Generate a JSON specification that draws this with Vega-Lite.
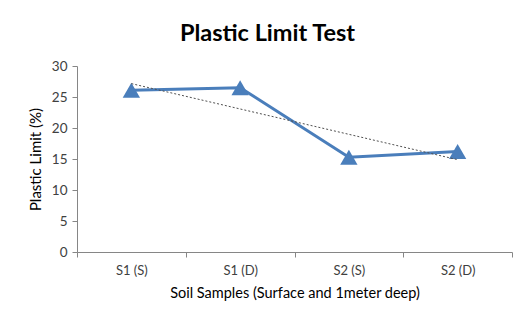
{
  "$schema": "https://vega.github.io/schema/vega-lite/v6.json",
  "width": 435,
  "height": 186,
  "autosize": "none",
  "padding": {"left": 77, "top": 66, "right": 18, "bottom": 68},
  "background": "white",
  "config": {"view": {"stroke": null}, "font": "Lato"},
  "title": {
    "text": "Plastic Limit Test",
    "font": "Lato",
    "fontSize": 23.5,
    "fontWeight": "bold",
    "color": "#000000",
    "anchor": "middle",
    "dx": -27,
    "offset": 14
  },
  "data": {
    "values": [
      {"sample": "S1 (S)", "i": 1, "pl": 26.1},
      {"sample": "S1 (D)", "i": 2, "pl": 26.5},
      {"sample": "S2 (S)", "i": 3, "pl": 15.3},
      {"sample": "S2 (D)", "i": 4, "pl": 16.2}
    ]
  },
  "encoding": {
    "y": {
      "field": "pl", "type": "quantitative",
      "scale": {"domain": [0, 30], "nice": false},
      "axis": {
        "title": "Plastic Limit (%)", "values": [0, 5, 10, 15, 20, 25, 30],
        "labelFontSize": 13.5, "labelColor": "#404040", "labelPadding": 5,
        "tickSize": 5, "tickColor": "#868686", "domainColor": "#868686",
        "titleFontSize": 15, "titleFontWeight": "normal", "titleColor": "#000000", "titlePadding": 8,
        "grid": false
      }
    }
  },
  "layer": [
    {
      "mark": {
        "type": "line", "color": "#4A7EBB", "strokeWidth": 3,
        "point": {"shape": "triangle-up", "filled": true, "size": 300, "color": "#4A7EBB", "opacity": 1}
      },
      "encoding": {
        "x": {
          "field": "sample", "type": "nominal", "sort": null,
          "scale": {"type": "band", "paddingInner": 0, "paddingOuter": 0},
          "axis": {
            "title": "Soil Samples (Surface and 1meter deep)",
            "labelAngle": 0, "labelFontSize": 13, "labelColor": "#404040", "labelPadding": 7,
            "tickBand": "extent", "tickSize": 5, "tickColor": "#868686", "domainColor": "#868686",
            "titleFontSize": 14.5, "titleFontWeight": "normal", "titleColor": "#000000", "titlePadding": 9,
            "grid": false
          }
        }
      }
    },
    {
      "transform": [{"regression": "pl", "on": "i"}],
      "mark": {"type": "line", "color": "#505050", "strokeWidth": 1, "strokeDash": [2, 2]},
      "encoding": {
        "x": {"field": "i", "type": "quantitative", "scale": {"domain": [0.5, 4.5], "nice": false, "zero": false}, "axis": null}
      }
    }
  ],
  "resolve": {"scale": {"x": "independent"}}
}
